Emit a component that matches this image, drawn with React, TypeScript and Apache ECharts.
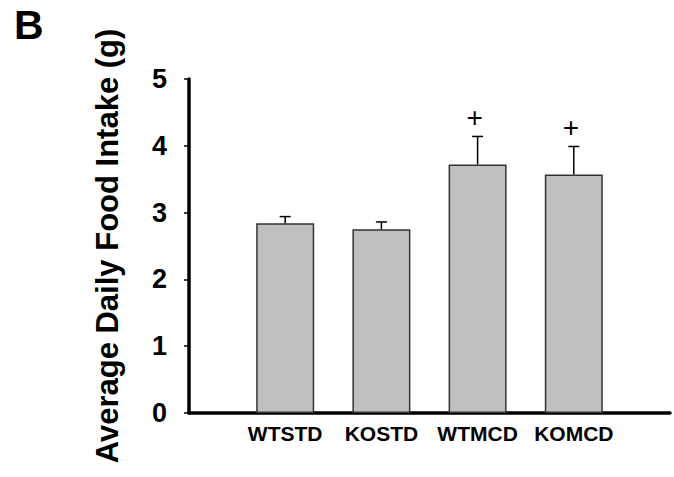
import React, { useEffect, useRef } from "react";
import * as echarts from "echarts";

const categories = ["WTSTD", "KOSTD", "WTMCD", "KOMCD"];
const means = [2.84, 2.75, 3.72, 3.57];
const errors = [0.10, 0.11, 0.42, 0.42];
const marks = ["", "", "+", "+"];
const yTicks = [0, 1, 2, 3, 4, 5];

const FONT = "'Liberation Sans', Arial, sans-serif";

export default function App() {
  const ref = useRef<HTMLDivElement>(null);
  useEffect(() => {
    if (!ref.current) return;
    const chart = echarts.init(ref.current, null, { renderer: "svg" });
    const barData = means.map((m, i) => [i, m]);
    const errData = means.map((m, i) => [i, m, m + errors[i]]);
    chart.setOption({
      animation: false,
      backgroundColor: "#fff",
      grid: { left: 189, right: 4, top: 79, bottom: 64, containLabel: false },
      graphic: [
        {
          type: "text",
          x: 14,
          y: 25,
          style: { text: "B", font: `bold 41px ${FONT}`, fill: "#000", align: "left", verticalAlign: "middle" },
        },
      ],
      xAxis: {
        type: "value",
        min: -1,
        max: 4,
        interval: 1,
        splitLine: { show: false },
        axisTick: { show: false },
        axisLine: { show: true, onZero: false, lineStyle: { color: "#000", width: 3.5 } },
        axisLabel: {
          margin: 10,
          color: "#000",
          fontFamily: FONT,
          fontWeight: "bold",
          fontSize: 21,
          formatter: (v: number) => (Number.isInteger(v) && categories[v] !== undefined ? categories[v] : ""),
        },
      },
      yAxis: {
        type: "value",
        min: yTicks[0],
        max: yTicks[yTicks.length - 1],
        interval: 1,
        name: "Average Daily Food Intake (g)",
        nameLocation: "middle",
        nameGap: 66,
        nameTextStyle: { color: "#000", fontFamily: FONT, fontWeight: "bold", fontSize: 31 },
        splitLine: { show: false },
        axisLine: { show: true, onZero: false, lineStyle: { color: "#000", width: 3.5 } },
        axisTick: { show: true, inside: false, length: 5, lineStyle: { color: "#000", width: 1.5 } },
        axisLabel: {
          margin: 22,
          color: "#000",
          fontFamily: FONT,
          fontWeight: "bold",
          fontSize: 27,
        },
      },
      series: [
        {
          type: "bar",
          data: barData,
          barWidth: 58,
          itemStyle: { color: "#c0c0c0", borderColor: "#333", borderWidth: 1.5 },
          z: 2,
        },
        {
          type: "custom",
          data: errData,
          z: 3,
          renderItem: (params: any, api: any) => {
            const x = api.value(0);
            const top = api.coord([x, api.value(1)]);
            const cap = api.coord([x, api.value(2)]);
            const mark = marks[params.dataIndex];
            const children: any[] = [
              {
                type: "line",
                shape: { x1: top[0], y1: top[1], x2: cap[0], y2: cap[1] },
                style: { stroke: "#000", lineWidth: 1.5 },
              },
              {
                type: "line",
                shape: { x1: cap[0] - 5.5, y1: cap[1], x2: cap[0] + 5.5, y2: cap[1] },
                style: { stroke: "#000", lineWidth: 1.5 },
              },
            ];
            if (mark) {
              children.push({
                type: "text",
                x: cap[0] - 3,
                y: cap[1] - 19,
                style: {
                  text: mark,
                  font: `28px ${FONT}`,
                  fill: "#000",
                  align: "center",
                  verticalAlign: "middle",
                },
              });
            }
            return { type: "group", children };
          },
        },
      ],
    });
    return () => chart.dispose();
  }, []);
  return <div ref={ref} style={{ width: 674, height: 477, position: "absolute", left: 0, top: 0 }} />;
}
